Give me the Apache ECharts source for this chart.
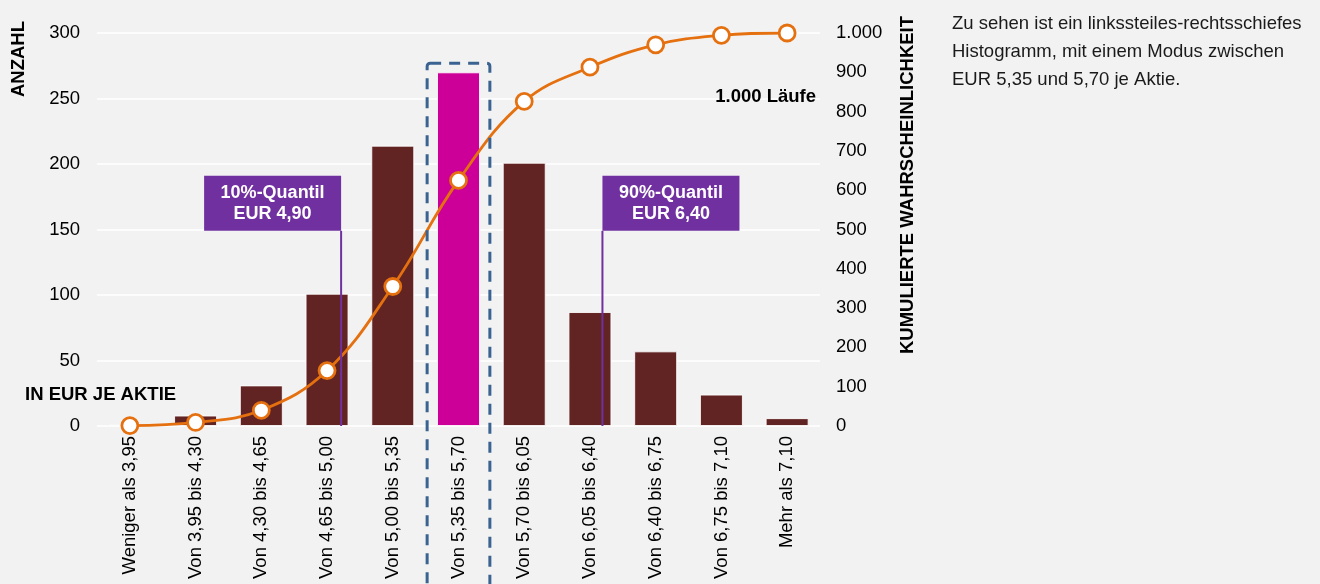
<!DOCTYPE html>
<html><head><meta charset="utf-8">
<script src="https://cdn.jsdelivr.net/npm/echarts@6/dist/echarts.min.js"></script>
<style>html,body{margin:0;padding:0;background:#f2f2f2;}#c{width:1320px;height:584px;}</style>
</head><body><div id="c"></div>
<script>
const categories = ['Weniger als 3,95','Von 3,95 bis 4,30','Von 4,30 bis 4,65','Von 4,65 bis 5,00','Von 5,00 bis 5,35','Von 5,35 bis 5,70','Von 5,70 bis 6,05','Von 6,05 bis 6,40','Von 6,40 bis 6,75','Von 6,75 bis 7,10','Mehr als 7,10'];
const counts = [1, 8, 31, 101, 214, 270, 201, 87, 57, 24, 6];
const cumulative = [1, 9, 40, 141, 355, 625, 826, 913, 970, 994, 1000];
const modeIndex = 5;
const leftTicks = [0, 50, 100, 150, 200, 250, 300];
const rightTicks = [0, 100, 200, 300, 400, 500, 600, 700, 800, 900, 1000];
// quantile markers: position in category units, label lines
const quantiles = [
  {pos: 3.214, lines: ['10%-Quantil', 'EUR 4,90'], side: 'left'},
  {pos: 7.19, lines: ['90%-Quantil', 'EUR 6,40'], side: 'right'}
];
const sideText = 'Zu sehen ist ein linkssteiles-rechtsschiefes\nHistogramm, mit einem Modus zwischen\nEUR 5,35 und 5,70 je Aktie.';

const FONT = 'Liberation Sans, Arial, sans-serif';
const FS = 18.5;
const BAR = '#622423', MODE = '#cc0099', ORANGE = '#e5700f', PURPLE = '#7030a0';

const chart = echarts.init(document.getElementById('c'), null, {renderer: 'canvas'});
const fmt = v => v >= 1000 ? (Math.floor(v/1000) + '.' + String(v % 1000).padStart(3, '0')) : String(v);

chart.setOption({
  backgroundColor: '#f2f2f2',
  animation: false,
  textStyle: {fontFamily: FONT},
  grid: {left: 97, right: 500, top: 33, bottom: 158, containLabel: false},
  xAxis: {
    type: 'category', data: categories,
    axisLine: {show: false}, axisTick: {show: false},
    axisLabel: {rotate: 90, color: '#000', fontSize: FS, fontFamily: FONT, margin: 10, interval: 0}
  },
  yAxis: [
    {type: 'value', min: leftTicks[0], max: leftTicks[leftTicks.length-1], interval: 50,
     axisLine: {show: false}, axisTick: {show: false},
     axisLabel: {color: '#000', fontSize: FS, fontFamily: FONT, margin: 17},
     splitLine: {lineStyle: {color: '#ffffff', width: 1.5}}},
    {type: 'value', min: rightTicks[0], max: rightTicks[rightTicks.length-1], interval: 100,
     axisLine: {show: false}, axisTick: {show: false},
     axisLabel: {color: '#000', fontSize: FS, fontFamily: FONT, margin: 16, formatter: fmt},
     splitLine: {show: false}}
  ],
  series: [
    {type: 'bar', data: counts.map((v, i) => ({value: v, itemStyle: {color: i === modeIndex ? MODE : BAR}})),
     barWidth: 43, itemStyle: {borderColor: 'rgba(255,255,255,0.85)', borderWidth: 1}, z: 2},
    {type: 'line', yAxisIndex: 1, data: cumulative, smooth: 0.4,
     lineStyle: {color: ORANGE, width: 2.8},
     symbol: 'circle', symbolSize: 16,
     itemStyle: {color: '#ffffff', borderColor: ORANGE, borderWidth: 2.8}, z: 5}
  ]
});

function draw() {
  const xc = i => chart.convertToPixel({xAxisIndex: 0}, categories[i]);
  const band = xc(1) - xc(0);
  const y0 = v => chart.convertToPixel({yAxisIndex: 0}, v);
  const g = [];
  // dashed box around mode bar
  const mx = xc(modeIndex);
  g.push({type: 'rect', shape: {x: mx - band/2 + 1.5, y: y0(277), width: band - 3, height: 600, r: 3},
    style: {fill: 'none', stroke: '#3b6391', lineWidth: 3, lineDash: [11, 8]}, z: 10});
  // quantile annotations
  quantiles.forEach(q => {
    const px = xc(0) + q.pos * band;
    const boxW = 137, boxH = 55;
    const boxBottom = y0(149);
    g.push({type: 'line', shape: {x1: px, y1: y0(0), x2: px, y2: boxBottom}, style: {stroke: PURPLE, lineWidth: 2}, z: 11});
    const bx = q.side === 'left' ? px - boxW : px;
    g.push({type: 'rect', shape: {x: bx, y: boxBottom - boxH, width: boxW, height: boxH}, style: {fill: PURPLE}, z: 11});
    g.push({type: 'text', x: bx + boxW/2, y: boxBottom - boxH/2, z: 12,
      style: {text: q.lines.join('\n'), fill: '#fff', font: 'bold 18px ' + FONT, align: 'center', verticalAlign: 'middle', lineHeight: 21}});
  });
  // texts
  const bold = 'bold ' + FS + 'px ' + FONT;
  g.push({type: 'text', x: 816, y: 97, z: 12, style: {text: '1.000 Läufe', fill: '#000', font: bold, align: 'right', verticalAlign: 'middle'}});
  g.push({type: 'text', x: 25, y: 395, z: 12, style: {text: 'IN EUR JE AKTIE', fill: '#000', font: bold, align: 'left', verticalAlign: 'middle'}});
  g.push({type: 'text', x: 19, y: 59, rotation: Math.PI/2, z: 12, style: {text: 'ANZAHL', fill: '#000', font: bold, align: 'center', verticalAlign: 'middle'}});
  g.push({type: 'text', x: 908, y: 185, rotation: Math.PI/2, z: 12, style: {text: 'KUMULIERTE WAHRSCHEINLICHKEIT', fill: '#000', font: bold, align: 'center', verticalAlign: 'middle'}});
  g.push({type: 'text', x: 952, y: 10, z: 12, style: {text: sideText, fill: '#1a1a1a', font: FS + 'px ' + FONT, align: 'left', verticalAlign: 'top', lineHeight: 28}});
  chart.setOption({graphic: g});
}
draw();
</script></body></html>
